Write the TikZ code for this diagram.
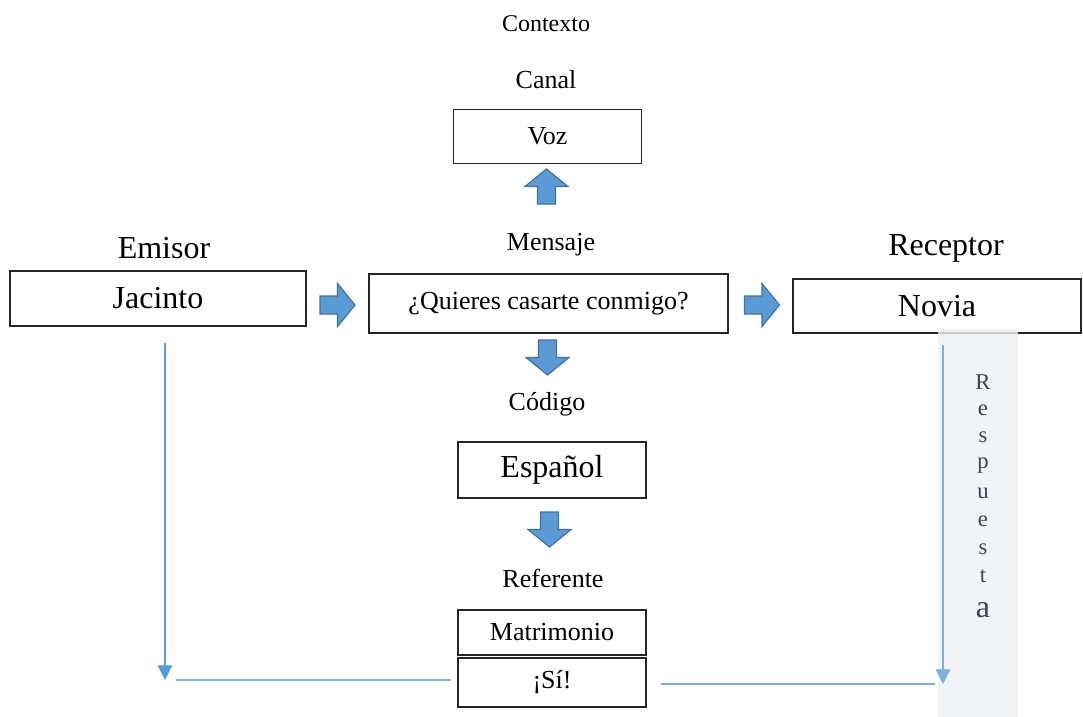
\documentclass[tikz,border=0pt]{standalone}
\usepackage{fontspec}
\setmainfont{Liberation Serif}
\usetikzlibrary{arrows.meta}
\definecolor{flechaazul}{HTML}{5B9BD5}
\definecolor{bordeazul}{HTML}{41719C}
\definecolor{lineaazul}{HTML}{7EAEE0}
\definecolor{grisclaro}{HTML}{EFF0F4}
\definecolor{textogris}{HTML}{3A4455}
\tikzset{
  caja/.style={draw=black!85,line width=0.8pt,inner sep=0pt},
  chico/.style={font=\fontsize{19.5}{22}\selectfont},
  grande/.style={font=\fontsize{24}{28}\selectfont},
  linea/.style={draw=lineaazul,line width=0.9pt},
  punta/.style={-{Triangle[length=11pt,width=11pt]}},
  bloque/.pic={\draw[fill=flechaazul,draw=bordeazul,line width=0.9pt]
    (-17.5,-9)--(0,-9)--(0,-21.5)--(17.5,0)--(0,21.5)--(0,9)--(-17.5,9)--cycle;}
}
\begin{document}
\begin{tikzpicture}[x=0.75pt,y=-0.75pt]
\useasboundingbox (0,0) rectangle (1083,717);
% etiquetas
\node[chico,font=\fontsize{18}{20}\selectfont] (contexto) at (546,24) {Contexto};
\node[chico] (canal) at (546,80) {Canal};
\node[grande] (emisor) at (164,248) {Emisor};
\node[chico] (mensaje) at (551,245) {Mensaje};
\node[grande] (receptor) at (946,248) {Receptor};
\node[chico] (codigo) at (547,404) {Código};
\node[chico] (referente) at (553,578) {Referente};
% cajas
\node[caja,chico,minimum width=141pt,minimum height=40.5pt] (voz) at (547.5,136.5) {Voz};
\node[caja,grande,minimum width=222pt,minimum height=41.25pt] (jacinto) at (158,298.5) {Jacinto};
\node[caja,chico,minimum width=269.25pt,minimum height=44.25pt] (pregunta) at (548.5,303.5) {¿Quieres casarte conmigo?};
\node[caja,grande,minimum width=216pt,minimum height=40.5pt] (novia) at (937,306) {Novia};
\node[caja,grande,minimum width=141pt,minimum height=42pt] (espanol) at (552,470) {Español};
\node[caja,chico,minimum width=141pt,minimum height=33.75pt] (matrimonio) at (552,632.5) {Matrimonio};
\node[caja,chico,minimum width=141pt,minimum height=36.75pt] (si) at (552,682.5) {¡Sí!};
% flechas gruesas
\pic[rotate=90] at (546.5,186.5) {bloque};
\pic at (337.5,305) {bloque};
\pic at (762,305) {bloque};
\pic[rotate=-90] at (547.5,357.5) {bloque};
\pic[rotate=-90] at (549.5,529.5) {bloque};
% respuesta
\fill[grisclaro,opacity=0.8] (938,329) rectangle (1018,717);
\foreach \l [count=\i from 0] in {R,e,s,p,u,e,s,t}
  \node[text=textogris,font=\fontsize{17}{20}\selectfont] (resp\i) at (983,382+27.8*\i) {\l};
\node[text=textogris,grande] (respa) at (983,610) {a};
% lineas
\coordinate (izqarriba) at (165,343);
\coordinate (izqabajo) at (165,680);
\coordinate (izqlinea) at (176,680);
\draw[linea,punta,draw=flechaazul,-{Triangle[length=11pt,width=11pt,fill=flechaazul]}] (izqarriba)--(izqabajo);
\draw[linea] (izqlinea)--(si.west |- izqlinea) [shorten >=5pt];
\coordinate (derarriba) at (943,345);
\coordinate (derabajo) at (943,684);
\coordinate (derlinea) at (935,684);
\draw[linea,punta] (derarriba)--(derabajo);
\draw[linea,shorten <=10.5pt] (si.east |- derlinea)--(derlinea);
\end{tikzpicture}
\end{document}
